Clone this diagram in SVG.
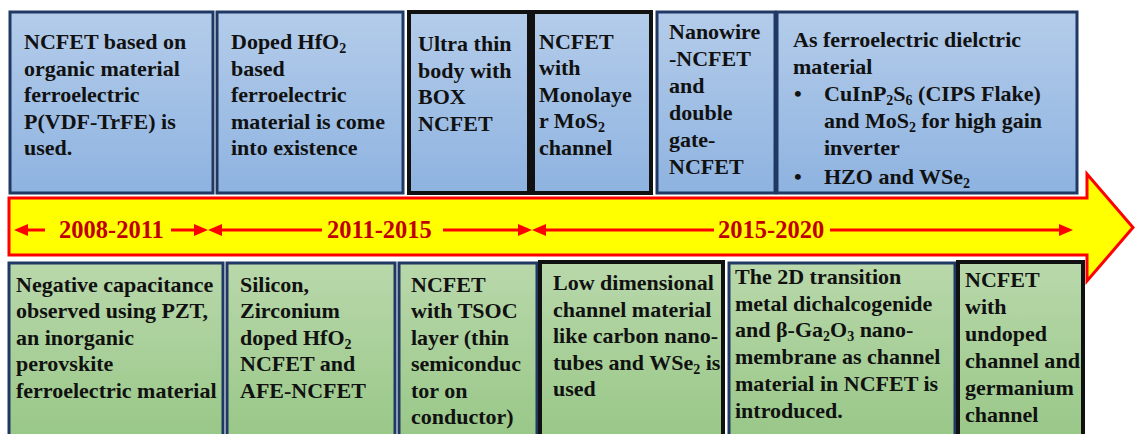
<svg xmlns="http://www.w3.org/2000/svg" width="1135" height="434" viewBox="0 0 1135 434">
  <defs>
    <linearGradient id="gBlue" x1="0" y1="0" x2="0" y2="1">
      <stop offset="0" stop-color="#B4CCEA"/>
      <stop offset="1" stop-color="#8EB3E0"/>
    </linearGradient>
    <linearGradient id="gGreen" x1="0" y1="0" x2="0" y2="1">
      <stop offset="0" stop-color="#B9D8AB"/>
      <stop offset="1" stop-color="#98C787"/>
    </linearGradient>
    <marker id="head" markerUnits="userSpaceOnUse" markerWidth="15" markerHeight="12" refX="10" refY="6" orient="auto-start-reverse">
      <path d="M0,0 L14,6 L0,12 z" fill="#FF0000"/>
    </marker>
    <style>
      .blue { fill: url(#gBlue); stroke: #1F3864; stroke-width: 3; }
      .blueK { fill: url(#gBlue); stroke: #111111; stroke-width: 4; }
      .green { fill: url(#gGreen); stroke: #1F3864; stroke-width: 3; }
      .greenK { fill: url(#gGreen); stroke: #111111; stroke-width: 4; }
      .t { font-family: "Liberation Serif", "Times New Roman", serif; font-weight: bold; font-size: 22px; fill: #111111; }
      .s { font-size: 14px; }
      .yr { font-family: "Liberation Serif", "Times New Roman", serif; font-weight: bold; font-size: 24.5px; fill: #C00000; }
      .tl { stroke: #FF0000; stroke-width: 3; fill: none; marker-end: url(#head); }
    </style>
  </defs>

  <rect width="1135" height="434" fill="#FFFFFF"/>

  <!-- timeline band -->
  <g id="timeline">
    <polygon points="9,198 1087,198 1087,174 1133,227.5 1087,281 1087,255 9,255" fill="#FFFF00" stroke="#FF0000" stroke-width="3" stroke-linejoin="miter"/>
  </g>

  <!-- period spans along the band -->
  <g id="connectors">
    <line class="tl" x1="45" y1="230" x2="18" y2="230"/>
    <line class="tl" x1="171" y1="230" x2="204" y2="230"/>
    <line class="tl" x1="322" y1="230" x2="212" y2="230"/>
    <line class="tl" x1="443" y1="230" x2="528" y2="230"/>
    <line class="tl" x1="714" y1="230" x2="536" y2="230"/>
    <line class="tl" x1="830" y1="230" x2="1069" y2="230"/>
  </g>

  <g id="labels">
    <text class="yr" x="59" y="238">2008-2011</text>
    <text class="yr" x="327" y="238">2011-2015</text>
    <text class="yr" x="718" y="238">2015-2020</text>
  </g>

  <!-- upper row -->
  <g id="top1">
    <rect class="blue" x="10" y="12" width="203" height="181"/>
    <text class="t">
      <tspan x="24" y="49">NCFET based on</tspan>
      <tspan x="24" y="75.5">organic material</tspan>
      <tspan x="24" y="102">ferroelectric</tspan>
      <tspan x="24" y="128.5">P(VDF-TrFE) is</tspan>
      <tspan x="24" y="155">used.</tspan>
    </text>
  </g>
  <g id="top2">
    <rect class="blue" x="217" y="12" width="186" height="181"/>
    <text class="t">
      <tspan x="231" y="49">Doped HfO<tspan class="s" dy="4">2</tspan></tspan>
      <tspan x="231" y="75.5">based</tspan>
      <tspan x="231" y="102">ferroelectric</tspan>
      <tspan x="231" y="128.5">material is come</tspan>
      <tspan x="231" y="155">into existence</tspan>
    </text>
  </g>
  <g id="top3">
    <rect class="blueK" x="409" y="12" width="120" height="181"/>
    <text class="t">
      <tspan x="418" y="51">Ultra thin</tspan>
      <tspan x="418" y="77.5">body with</tspan>
      <tspan x="418" y="104">BOX</tspan>
      <tspan x="418" y="130.5">NCFET</tspan>
    </text>
  </g>
  <g id="top4">
    <rect class="blueK" x="533" y="12" width="118" height="181"/>
    <text class="t">
      <tspan x="539" y="48.5">NCFET</tspan>
      <tspan x="539" y="75">with</tspan>
      <tspan x="539" y="101.5">Monolaye</tspan>
      <tspan x="539" y="128">r MoS<tspan class="s" dy="4">2</tspan></tspan>
      <tspan x="539" y="154.5">channel</tspan>
    </text>
  </g>
  <g id="top5">
    <rect class="blue" x="657" y="12" width="118" height="181"/>
    <text class="t">
      <tspan x="669" y="38.5">Nanowire</tspan>
      <tspan x="669" y="65.5">-NCFET</tspan>
      <tspan x="669" y="92.5">and</tspan>
      <tspan x="669" y="119.5">double</tspan>
      <tspan x="669" y="146.5">gate-</tspan>
      <tspan x="669" y="173.5">NCFET</tspan>
    </text>
  </g>
  <g id="top6">
    <rect class="blue" x="777" y="12" width="300" height="181"/>
    <text class="t">
      <tspan x="793" y="47">As ferroelectric dielctric</tspan>
      <tspan x="793" y="74">material</tspan>
      <tspan x="794" y="101">•</tspan>
      <tspan x="824" y="101">CuInP<tspan class="s" dy="4">2</tspan><tspan dy="-4">S</tspan><tspan class="s" dy="4">6</tspan><tspan dy="-4"> (CIPS Flake)</tspan></tspan>
      <tspan x="824" y="128">and MoS<tspan class="s" dy="4">2</tspan><tspan dy="-4"> for high gain</tspan></tspan>
      <tspan x="824" y="155">inverter</tspan>
      <tspan x="794" y="184">•</tspan>
      <tspan x="824" y="184">HZO and WSe<tspan class="s" dy="4">2</tspan></tspan>
    </text>
  </g>

  <!-- lower row -->
  <g id="bottom1">
    <rect class="green" x="9" y="263" width="214" height="180"/>
    <text class="t">
      <tspan x="16" y="291.5">Negative capacitance</tspan>
      <tspan x="16" y="318">observed using PZT,</tspan>
      <tspan x="16" y="344.5">an inorganic</tspan>
      <tspan x="16" y="371">perovskite</tspan>
      <tspan x="16" y="397.5">ferroelectric material</tspan>
    </text>
  </g>
  <g id="bottom2">
    <rect class="green" x="227" y="263" width="168" height="180"/>
    <text class="t">
      <tspan x="240" y="291.5">Silicon,</tspan>
      <tspan x="240" y="318">Zirconium</tspan>
      <tspan x="240" y="344.5">doped HfO<tspan class="s" dy="4">2</tspan></tspan>
      <tspan x="240" y="371">NCFET and</tspan>
      <tspan x="240" y="397.5">AFE-NCFET</tspan>
    </text>
  </g>
  <g id="bottom3">
    <rect class="green" x="399" y="263" width="138" height="180"/>
    <text class="t">
      <tspan x="411" y="291.5">NCFET</tspan>
      <tspan x="411" y="318">with TSOC</tspan>
      <tspan x="411" y="344.5">layer (thin</tspan>
      <tspan x="411" y="371">semiconduc</tspan>
      <tspan x="411" y="397.5">tor on</tspan>
      <tspan x="411" y="424">conductor)</tspan>
    </text>
  </g>
  <g id="bottom4">
    <rect class="greenK" x="540" y="262" width="183" height="181"/>
    <text class="t">
      <tspan x="553" y="290">Low dimensional</tspan>
      <tspan x="553" y="316.5">channel material</tspan>
      <tspan x="553" y="343">like carbon nano-</tspan>
      <tspan x="553" y="369.5">tubes and WSe<tspan class="s" dy="4">2</tspan><tspan dy="-4"> is</tspan></tspan>
      <tspan x="553" y="396">used</tspan>
    </text>
  </g>
  <g id="bottom5">
    <rect class="green" x="729" y="263" width="226" height="180"/>
    <text class="t">
      <tspan x="735" y="283.5">The 2D transition</tspan>
      <tspan x="735" y="310.5">metal dichalcogenide</tspan>
      <tspan x="735" y="337">and β-Ga<tspan class="s" dy="4">2</tspan><tspan dy="-4">O</tspan><tspan class="s" dy="4">3</tspan><tspan dy="-4"> nano-</tspan></tspan>
      <tspan x="735" y="364">membrane as channel</tspan>
      <tspan x="735" y="391">material in NCFET is</tspan>
      <tspan x="735" y="418">introduced.</tspan>
    </text>
  </g>
  <g id="bottom6">
    <rect class="greenK" x="958" y="262" width="125" height="181"/>
    <text class="t">
      <tspan x="965" y="287">NCFET</tspan>
      <tspan x="965" y="314">with</tspan>
      <tspan x="965" y="341">undoped</tspan>
      <tspan x="965" y="368" textLength="115" lengthAdjust="spacingAndGlyphs">channel and</tspan>
      <tspan x="965" y="395">germanium</tspan>
      <tspan x="965" y="422">channel</tspan>
    </text>
  </g>
</svg>
